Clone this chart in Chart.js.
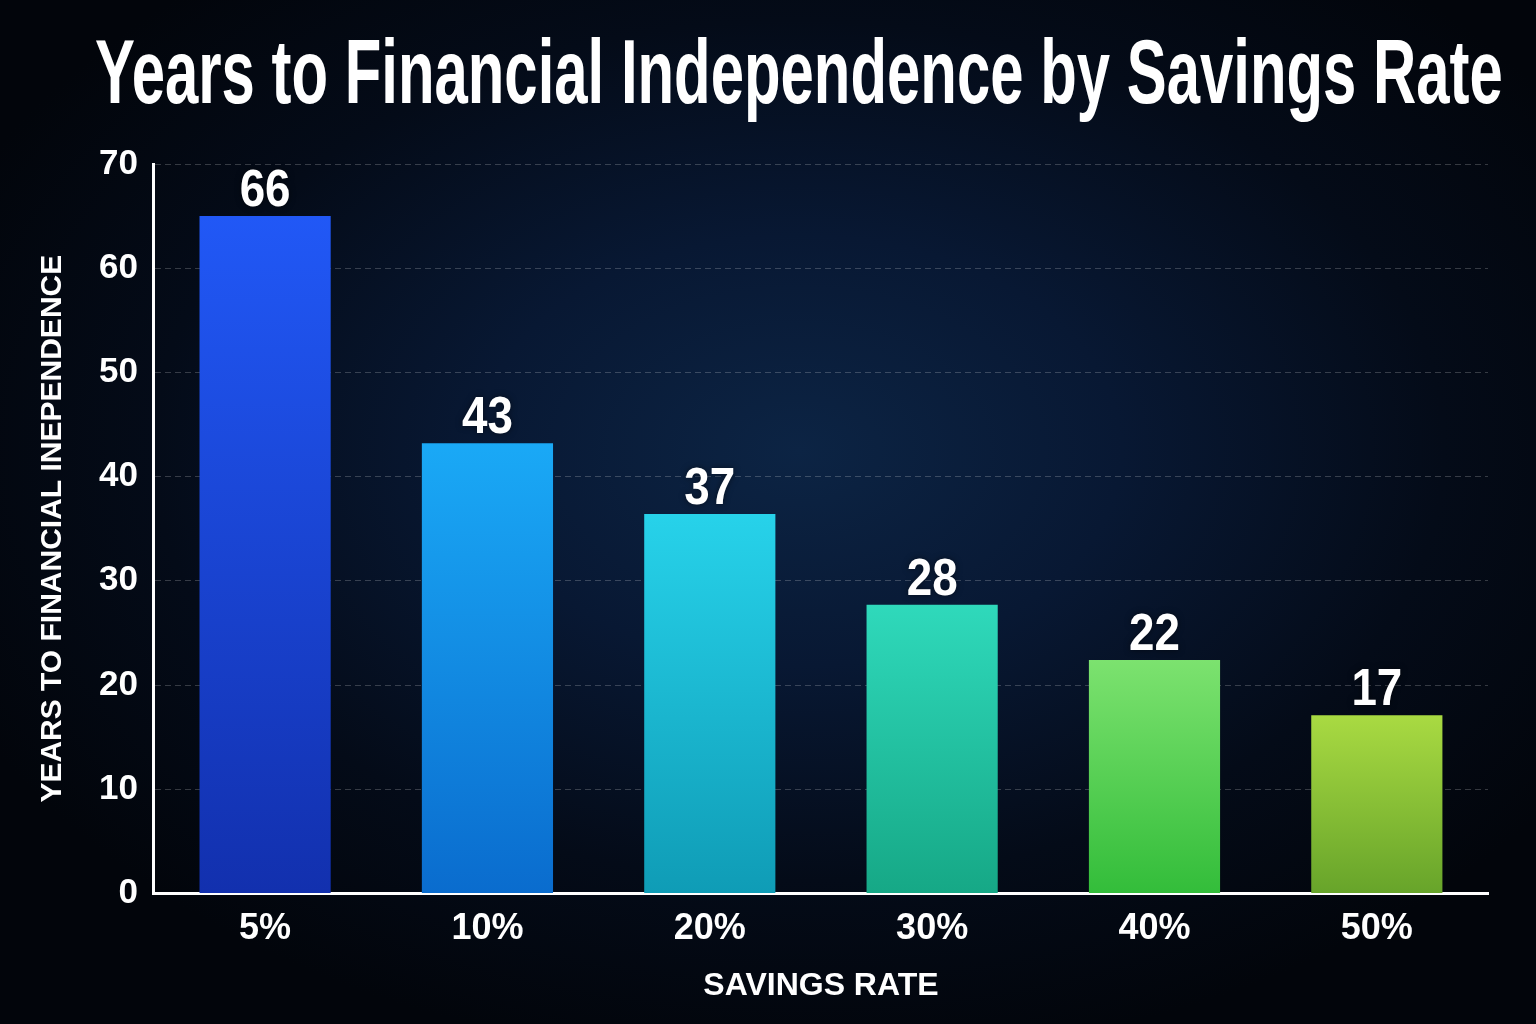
<!DOCTYPE html>
<html>
<head>
<meta charset="utf-8">
<title>Years to Financial Independence by Savings Rate</title>
<script src="https://cdn.jsdelivr.net/npm/chart.js@4.4.1/dist/chart.umd.min.js"></script>
<style>
    html, body {
        margin: 0;
        padding: 0;
        width: 1536px;
        height: 1024px;
        overflow: hidden;
    }
    body {
        background: radial-gradient(ellipse 60% 60% at 52% 44%, #0c2444 0%, #081833 35%, #040b18 70%, #02050b 100%);
        position: relative;
    }
    #title {
        position: absolute;
        left: 95px;
        top: 28px;
        margin: 0;
        font-family: "Liberation Sans", Arial, sans-serif;
        font-weight: bold;
        font-size: 90px;
        line-height: 88px;
        color: #ffffff;
        white-space: nowrap;
        transform-origin: 0 0;
    }
    #chart-wrap {
        position: absolute;
        left: 0;
        top: 0;
        width: 1536px;
        height: 1024px;
    }
</style>
</head>
<body>
<h1 id="title">Years to Financial Independence by Savings Rate</h1>
<div id="chart-wrap"><canvas id="fiChart" width="1536" height="1024"></canvas></div>
<script>
// Chart data
const savingsRates = ['5%', '10%', '20%', '30%', '40%', '50%'];
const yearsToFI = [65, 43.2, 36.4, 27.7, 22.4, 17.1];
const valueLabels = ['66', '43', '37', '28', '22', '17'];
const yMin = 0;
const yMax = 70;
const yStep = 10;

// Bar colours (top / bottom of each gradient)
const topColors = ['#2158f6', '#1aa9f6', '#27d2ea', '#2fd9bb', '#7ce26f', '#a9da42'];
const bottomColors = ['#1230ae', '#0a6cce', '#0f9cb6', '#16a886', '#33bd3a', '#67a42a'];

const fontMain = '"Liberation Sans", Arial, sans-serif';

// Squeeze the title to the reference width
function fitTitle() {
    const title = document.getElementById('title');
    const targetWidth = 1408;
    const scale = targetWidth / title.scrollWidth;
    title.style.transform = `scaleX(${scale})`;
}

// Gradient per bar, from its top down to the baseline
function barGradient(context) {
    const chart = context.chart;
    const i = context.dataIndex;
    if (!chart.chartArea) {
        return topColors[i];
    }
    const yScale = chart.scales.y;
    const top = yScale.getPixelForValue(context.raw);
    const bottom = yScale.getPixelForValue(0);
    const g = chart.ctx.createLinearGradient(0, top, 0, bottom);
    g.addColorStop(0, topColors[i]);
    g.addColorStop(1, bottomColors[i]);
    return g;
}

// Value labels above the bars
const valueLabelPlugin = {
    id: 'valueLabels',
    afterDatasetsDraw(chart) {
        const ctx = chart.ctx;
        const meta = chart.getDatasetMeta(0);
        ctx.save();
        ctx.fillStyle = '#ffffff';
        ctx.font = `bold 52px ${fontMain}`;
        ctx.textAlign = 'center';
        ctx.textBaseline = 'alphabetic';
        ctx.shadowColor = 'rgba(0,0,0,0.5)';
        ctx.shadowBlur = 6;
        meta.data.forEach((bar, i) => {
            ctx.save();
            ctx.translate(bar.x, bar.y - 10);
            ctx.scale(0.88, 1);
            ctx.fillText(valueLabels[i], 0, 0);
            ctx.restore();
        });
        ctx.restore();
    }
};

function drawChart() {
    const ctx = document.getElementById('fiChart').getContext('2d');
    new Chart(ctx, {
        type: 'bar',
        data: {
            labels: savingsRates,
            datasets: [{
                label: 'Years to Financial Independence',
                data: yearsToFI,
                backgroundColor: barGradient,
                borderWidth: 0,
                barPercentage: 0.59,
                categoryPercentage: 1
            }]
        },
        options: {
            responsive: false,
            animation: false,
            layout: {
                padding: { top: 164, left: 35, right: 48, bottom: 19 }
            },
            plugins: {
                legend: { display: false },
                tooltip: { enabled: false }
            },
            scales: {
                x: {
                    grid: { display: false },
                    border: { display: true, color: '#ffffff', width: 3 },
                    ticks: {
                        color: '#ffffff',
                        font: { family: fontMain, size: 36, weight: 'bold' },
                        padding: 6
                    },
                    title: {
                        display: true,
                        text: 'SAVINGS RATE',
                        color: '#ffffff',
                        font: { family: fontMain, size: 32, weight: 'bold' },
                        padding: { top: 10, bottom: 0 }
                    }
                },
                y: {
                    min: yMin,
                    max: yMax,
                    grid: {
                        color: 'rgba(255,255,255,0.2)',
                        lineWidth: 1,
                        drawTicks: false
                    },
                    border: { display: true, color: '#ffffff', width: 3, dash: [6, 4] },
                    ticks: {
                        stepSize: yStep,
                        color: '#ffffff',
                        font: { family: fontMain, size: 35, weight: 'bold' },
                        padding: 16
                    },
                    title: {
                        display: true,
                        text: 'YEARS TO FINANCIAL INEPENDENCE',
                        color: '#ffffff',
                        font: { family: fontMain, size: 30, weight: 'bold' },
                        padding: { top: 0, bottom: 12 }
                    }
                }
            }
        },
        plugins: [valueLabelPlugin]
    });
}

document.addEventListener('DOMContentLoaded', function() {
    fitTitle();
    drawChart();
});
</script>
</body>
</html>
